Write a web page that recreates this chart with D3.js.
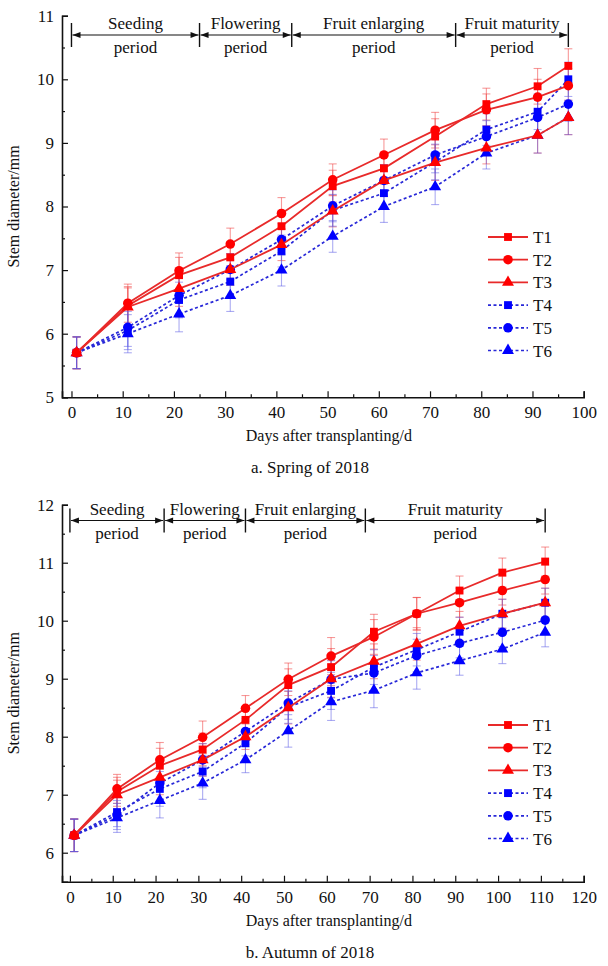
<!DOCTYPE html>
<html>
<head>
<meta charset="utf-8">
<title>Stem diameter</title>
<script src="https://cdnjs.cloudflare.com/ajax/libs/d3/7.8.5/d3.min.js"></script>
<style>
  body { margin: 0; background: #fff; }
  svg { display: block; font-family: "Liberation Serif", "DejaVu Serif", serif; }
  svg text { font-family: "Liberation Serif", "DejaVu Serif", serif; }
</style>
</head>
<body>
<svg id="chart" width="608" height="966"></svg>
<script>

const seriesNames = ['T1', 'T2', 'T3', 'T4', 'T5', 'T6'];

// spring 2018
const springDays = [1, 11, 21, 31, 41, 51, 61, 71, 81, 91, 97];
const springT1 = [5.7, 6.44, 6.92, 7.2, 7.69, 8.32, 8.6, 9.1, 9.61, 9.89, 10.21];
const springT2 = [5.7, 6.48, 6.99, 7.41, 7.89, 8.42, 8.81, 9.2, 9.52, 9.72, 9.9];
const springT3 = [5.7, 6.42, 6.71, 7.01, 7.4, 7.93, 8.41, 8.69, 8.92, 9.12, 9.4];
const springT4 = [5.7, 6.05, 6.53, 6.82, 7.3, 7.94, 8.21, 8.7, 9.21, 9.49, 10.0];
const springT5 = [5.7, 6.1, 6.6, 7.01, 7.48, 8.01, 8.41, 8.81, 9.1, 9.4, 9.61];
const springT6 = [5.7, 6.0, 6.31, 6.6, 7.0, 7.53, 8.0, 8.31, 8.84, 9.12, 9.4];
const springErr = [0.25, 0.3, 0.28, 0.25, 0.25, 0.25, 0.25, 0.28, 0.25, 0.28, 0.27];
const springPeriods = [0, 25, 43, 75, 97];

// autumn 2018
const autumnDays = [1, 11, 21, 31, 41, 51, 61, 71, 81, 91, 101, 111];
const autumnT1 = [6.3, 7.05, 7.5, 7.78, 8.29, 8.89, 9.2, 9.81, 10.12, 10.52, 10.83, 11.02];
const autumnT2 = [6.3, 7.1, 7.6, 7.99, 8.49, 8.99, 9.39, 9.72, 10.12, 10.31, 10.52, 10.71];
const autumnT3 = [6.3, 7.0, 7.3, 7.6, 8.0, 8.5, 9.0, 9.3, 9.6, 9.91, 10.12, 10.31];
const autumnT4 = [6.3, 6.7, 7.1, 7.4, 7.89, 8.51, 8.79, 9.2, 9.5, 9.81, 10.12, 10.31];
const autumnT5 = [6.3, 6.65, 7.2, 7.6, 8.09, 8.58, 8.99, 9.1, 9.4, 9.61, 9.8, 10.01];
const autumnT6 = [6.3, 6.6, 6.9, 7.2, 7.6, 8.1, 8.6, 8.8, 9.1, 9.31, 9.51, 9.8];
const autumnErr = [0.28, 0.25, 0.3, 0.28, 0.22, 0.28, 0.32, 0.3, 0.28, 0.25, 0.25, 0.25];
const autumnPeriods = [0, 22, 41, 69, 111];

const periodLabels = ['Seeding', 'Flowering', 'Fruit enlarging', 'Fruit maturity'];

const red = '#ff0000', blue = '#0000ff';
const symbols = [d3.symbolSquare, d3.symbolCircle, d3.symbolTriangle];
const symSize = [62, 72, 62];
const serif = '"Liberation Serif", "DejaVu Serif", serif';

const svg = d3.select('#chart').attr('font-family', serif);

function drawPanel(o) {
  const g = svg.append('g');
  const x = d3.scaleLinear().domain([-1.85, o.xMax]).range([62, 583.7]);
  const y = d3.scaleLinear().domain([o.yMin, o.yMax]).range([o.yBottom, o.yTop]);

  // axes (ticks point inward)
  const xAxis = d3.axisBottom(x).tickValues(d3.range(0, o.xMax + 1, 10)).tickSize(-6).tickPadding(9).tickFormat(d3.format('d'));
  const xMinor = d3.axisBottom(x).tickValues(d3.range(5, o.xMax, 10)).tickSize(-3).tickFormat('');
  const yAxis = d3.axisLeft(y).tickValues(d3.range(Math.ceil(o.yMin), o.yMax + 1)).tickSize(-6).tickPadding(8).tickFormat(d3.format('d'));
  const yMinor = d3.axisLeft(y).tickValues(d3.range(Math.ceil(o.yMin) + 0.5, o.yMax, 1)).tickSize(-3).tickFormat('');

  const gx = g.append('g').attr('transform', `translate(0,${o.yBottom})`).call(xAxis);
  g.append('g').attr('transform', `translate(0,${o.yBottom})`).call(xMinor).select('.domain').remove();
  const gy = g.append('g').attr('transform', 'translate(62,0)').call(yAxis);
  g.append('g').attr('transform', 'translate(62,0)').call(yMinor).select('.domain').remove();
  [gx, gy].forEach(a => {
    a.attr('font-family', serif).attr('font-size', 17);
    a.selectAll('text').attr('fill', '#111');
  });
  g.selectAll('.tick line').attr('stroke', '#111').attr('stroke-width', 1.2);
  g.selectAll('.domain').attr('stroke-width', 1.6).attr('stroke', '#111');

  // axis titles
  g.append('text').attr('x', (62 + 583.7) / 2 + 6).attr('y', o.yBottom + 44)
    .attr('text-anchor', 'middle').attr('font-size', 16).attr('fill', '#111')
    .text('Days after transplanting/d');
  g.append('text').attr('transform', `translate(19,${(o.yTop + o.yBottom) / 2}) rotate(-90)`)
    .attr('text-anchor', 'middle').attr('font-size', 16).attr('fill', '#111')
    .text('Stem diameter/mm');
  g.append('text').attr('x', 310).attr('y', o.yBottom + 76)
    .attr('text-anchor', 'middle').attr('font-size', 17).attr('fill', '#111')
    .text(o.caption);

  // period brackets
  const ay = o.arrowY;
  const pg = g.append('g').attr('stroke', '#111').attr('fill', '#111');
  o.periods.forEach(d => {
    pg.append('line').attr('x1', x(d)).attr('x2', x(d)).attr('y1', ay - 12).attr('y2', ay + 12).attr('stroke-width', 1.4);
  });
  d3.pairs(o.periods).forEach(([a, b], i) => {
    const x0 = x(a) + 1, x1 = x(b) - 1;
    pg.append('line').attr('x1', x0).attr('x2', x1).attr('y1', ay).attr('y2', ay).attr('stroke-width', 1.1);
    pg.append('path').attr('stroke', 'none').attr('d', `M${x0},${ay}l8,-3v6z`);
    pg.append('path').attr('stroke', 'none').attr('d', `M${x1},${ay}l-8,-3v6z`);
    const t = g.append('text').attr('text-anchor', 'middle').attr('font-size', 17).attr('fill', '#111');
    t.append('tspan').attr('x', (x(a) + x(b)) / 2).attr('y', ay - 6).text(periodLabels[i]);
    t.append('tspan').attr('x', (x(a) + x(b)) / 2).attr('y', ay + 18).text('period');
  });

  // error bars
  const eg = g.append('g');
  o.series.forEach((vals, si) => {
    const c = si < 3 ? 'rgba(240,70,70,0.55)' : 'rgba(90,90,230,0.5)';
    vals.forEach((v, i) => {
      const cx = x(o.days[i]), e = o.err[i];
      eg.append('line').attr('x1', cx).attr('x2', cx).attr('y1', y(v - e)).attr('y2', y(v + e)).attr('stroke', c).attr('stroke-width', 1.1);
      [v - e, v + e].forEach(w => eg.append('line').attr('x1', cx - 4).attr('x2', cx + 4)
        .attr('y1', y(w)).attr('y2', y(w)).attr('stroke', c).attr('stroke-width', 1.1));
    });
  });

  // lines and markers (blue first, red on top)
  const line = d3.line().x((v, i) => x(o.days[i])).y(v => y(v));
  [3, 4, 5, 0, 1, 2].forEach(si => {
    const vals = o.series[si];
    const isRed = si < 3;
    g.append('path').datum(vals).attr('d', line).attr('fill', 'none')
      .attr('stroke', isRed ? '#e82a2a' : '#2828d8').attr('stroke-width', isRed ? 1.8 : 1.7)
      .attr('stroke-dasharray', isRed ? null : '3,2.5');
    g.append('g').selectAll('path').data(vals).join('path')
      .attr('transform', (v, i) => `translate(${x(o.days[i])},${y(v)})`)
      .attr('d', d3.symbol(symbols[si % 3], symSize[si % 3]))
      .attr('fill', isRed ? red : blue);
  });

  // legend
  const lg = g.append('g').attr('transform', `translate(0,${o.legendY})`);
  seriesNames.forEach((name, si) => {
    const isRed = si < 3;
    const ly = si * 22.7;
    lg.append('line').attr('x1', 488).attr('x2', 528).attr('y1', ly).attr('y2', ly)
      .attr('stroke', isRed ? '#e82a2a' : '#2828d8').attr('stroke-width', isRed ? 1.8 : 1.7)
      .attr('stroke-dasharray', isRed ? null : '3,2.5');
    lg.append('path').attr('transform', `translate(508,${ly})`)
      .attr('d', d3.symbol(symbols[si % 3], symSize[si % 3])).attr('fill', isRed ? red : blue);
    lg.append('text').attr('x', 533).attr('y', ly + 6).attr('font-size', 17).attr('fill', '#111').text(name);
  });
}

drawPanel({
  days: springDays,
  series: [springT1, springT2, springT3, springT4, springT5, springT6],
  err: springErr,
  periods: springPeriods,
  xMax: 100, yMin: 5, yMax: 11, yBottom: 397.3, yTop: 15.7,
  arrowY: 35, legendY: 237, caption: 'a. Spring of 2018'
});

drawPanel({
  days: autumnDays,
  series: [autumnT1, autumnT2, autumnT3, autumnT4, autumnT5, autumnT6],
  err: autumnErr,
  periods: autumnPeriods,
  xMax: 120, yMin: 5.5, yMax: 12, yBottom: 881.7, yTop: 504.7,
  arrowY: 520.5, legendY: 725, caption: 'b. Autumn of 2018'
});

</script>
</body>
</html>
